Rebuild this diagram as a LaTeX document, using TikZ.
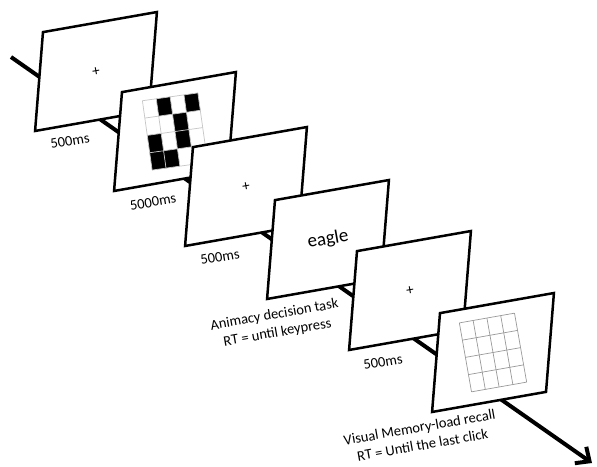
\documentclass[tikz,border=0pt]{standalone}
\usepackage{fontspec}
\setmainfont{Carlito}
\usetikzlibrary{arrows.meta}
\tikzset{
  screen/.style={rectangle, draw, fill=white, line width=2.5pt, inner sep=0pt, minimum width=115.7pt, minimum height=96pt, rotate=10, xslant=0.26, transform shape},
  fix/.style={rotate=10, inner sep=0pt, font=\fontsize{15}{15}\selectfont},
  word/.style={rotate=10, inner sep=0pt, font=\fontsize{19}{19}\selectfont},
  caption/.style={rotate=10, align=center, inner sep=0pt, font=\fontsize{14.5}{18}\selectfont},
  cell/.style={draw=gray!45, line width=0.7pt},
  timeline/.style={line width=4pt, -{Straight Barb[length=11pt, width=20pt]}}
}

\begin{document}
\begin{tikzpicture}[x=1pt, y=-1pt]
    \useasboundingbox (0,0) rectangle (597,466);
    \coordinate (t0) at (11,57);
    \coordinate (t1) at (592,463);
    \draw[timeline] (t0) -- (t1);

    \node[screen] (s1) at (96,71.5) {};
    \node[fix] (f1) at (s1.center) {+};

    \node[screen] (s2) at (175,131.5) {};
    \begin{scope}[shift={(s2.center)}, rotate=8, shift={(-28,-35)}]
      \foreach \r/\c in {0/1, 0/3, 1/2, 2/0, 2/2, 3/0, 3/1}
        \fill (\c*14, \r*17.5) rectangle ++(14,17.5);
      \foreach \i in {0,...,4}
        \draw[cell] (\i*14,0) -- (\i*14,70);
      \foreach \j in {0,...,4}
        \draw[cell] (0,\j*17.5) -- (56,\j*17.5);
    \end{scope}

    \node[screen] (s3) at (246,186.5) {};
    \node[fix] (f3) at (s3.center) {+};

    \node[screen] (s4) at (328,239.5) {};
    \node[word] (w4) at (s4.center) {eagle};

    \node[screen] (s5) at (410,290.5) {};
    \node[fix] (f5) at (s5.center) {+};

    \node[screen] (s6) at (493,352.5) {};
    \begin{scope}[shift={(s6.center)}, rotate=10, shift={(-28,-35)}]
      \foreach \i in {0,...,4}
        \draw[cell, draw=gray!80] (\i*14,0) -- (\i*14,70);
      \foreach \j in {0,...,4}
        \draw[cell, draw=gray!80] (0,\j*17.5) -- (56,\j*17.5);
    \end{scope}

    \node[caption] (d1) at (70,141) {500ms};
    \node[caption] (d2) at (153,202) {5000ms};
    \node[caption] (d3) at (220,257) {500ms};
    \node[caption] (d4) at (276,324) {Animacy decision task\\RT = until keypress};
    \node[caption] (d5) at (383,362) {500ms};
    \node[caption] (d6) at (421,436) {Visual Memory-load recall\\RT = Until the last click};
  \end{tikzpicture}
\end{document}
